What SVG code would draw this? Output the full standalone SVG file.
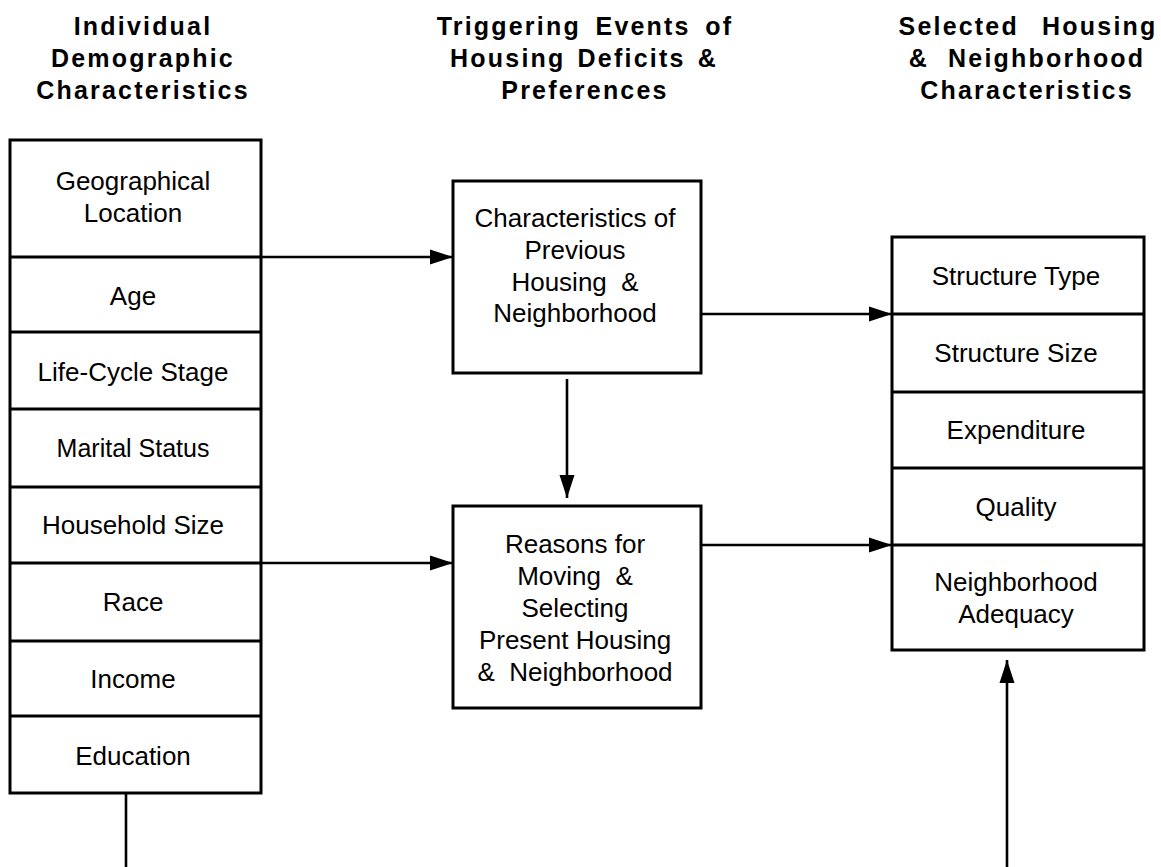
<svg xmlns="http://www.w3.org/2000/svg" width="1161" height="867" viewBox="0 0 1161 867">
<style>
  .hdr { font-family: "Liberation Sans", Arial, sans-serif; font-weight: bold; font-size: 25px; letter-spacing: 2.2px; text-anchor: middle; fill: #000; white-space: pre; }
  .lbl { font-family: "Liberation Sans", Arial, sans-serif; font-size: 26px; text-anchor: middle; fill: #000; white-space: pre; }
  .box { fill: #fff; stroke: #000; stroke-width: 3; }
  .div { stroke: #000; stroke-width: 3; }
  .con { fill: none; stroke: #000; stroke-width: 2.6; }
</style>
<defs>
  <marker id="arr" markerUnits="userSpaceOnUse" markerWidth="24" markerHeight="16" refX="23" refY="8" orient="auto" viewBox="0 0 24 16">
    <path d="M0,0.5 L23,8 L0,15.5 z" fill="#000"/>
  </marker>
</defs>
<rect width="1161" height="867" fill="#fff"/>

<g id="headers">
  <text class="hdr" x="143" y="35">Individual</text>
  <text class="hdr" x="143" y="67">Demographic</text>
  <text class="hdr" x="143" y="99">Characteristics</text>
  <text class="hdr" x="585" y="35" style="word-spacing:5.5px">Triggering Events of</text>
  <text class="hdr" x="584" y="67" style="word-spacing:3px">Housing Deficits &amp;</text>
  <text class="hdr" x="585" y="99">Preferences</text>
  <text class="hdr" x="1028" y="35" style="word-spacing:14px">Selected Housing</text>
  <text class="hdr" x="1027" y="67" style="word-spacing:10px">&amp; Neighborhood</text>
  <text class="hdr" x="1027" y="99">Characteristics</text>
</g>

<g id="connectors">
  <path class="con" d="M261,257 L453,257" marker-end="url(#arr)"/>
  <path class="con" d="M261,563 L453,563" marker-end="url(#arr)"/>
  <path class="con" d="M567,379 L567,498" marker-end="url(#arr)"/>
  <path class="con" d="M701,314 L892,314" marker-end="url(#arr)"/>
  <path class="con" d="M701,545 L892,545" marker-end="url(#arr)"/>
  <path class="con" d="M1007,867 L1007,660" marker-end="url(#arr)"/>
  <path class="con" d="M126,793 L126,867"/>
</g>

<g id="demographics">
  <rect class="box" x="10" y="140" width="251" height="653"/>
  <line class="div" x1="10" y1="257" x2="261" y2="257"/>
  <line class="div" x1="10" y1="332" x2="261" y2="332"/>
  <line class="div" x1="10" y1="409" x2="261" y2="409"/>
  <line class="div" x1="10" y1="487" x2="261" y2="487"/>
  <line class="div" x1="10" y1="563" x2="261" y2="563"/>
  <line class="div" x1="10" y1="641" x2="261" y2="641"/>
  <line class="div" x1="10" y1="716" x2="261" y2="716"/>
  <text class="lbl" x="133" y="190">Geographical</text>
  <text class="lbl" x="133" y="222">Location</text>
  <text class="lbl" x="133" y="305">Age</text>
  <text class="lbl" x="133" y="381">Life-Cycle Stage</text>
  <text class="lbl" x="133" y="457" style="font-size:25px">Marital Status</text>
  <text class="lbl" x="133" y="534">Household Size</text>
  <text class="lbl" x="133" y="611">Race</text>
  <text class="lbl" x="133" y="688">Income</text>
  <text class="lbl" x="133" y="765">Education</text>
</g>

<g id="previous-housing">
  <rect class="box" x="453" y="181" width="248" height="192"/>
  <text class="lbl" x="575" y="227">Characteristics of</text>
  <text class="lbl" x="575" y="259">Previous</text>
  <text class="lbl" x="575" y="291">Housing  &amp;</text>
  <text class="lbl" x="575" y="322">Neighborhood</text>
</g>

<g id="reasons">
  <rect class="box" x="453" y="506" width="248" height="202"/>
  <text class="lbl" x="575" y="553">Reasons for</text>
  <text class="lbl" x="575" y="585">Moving  &amp;</text>
  <text class="lbl" x="575" y="617">Selecting</text>
  <text class="lbl" x="575" y="649">Present Housing</text>
  <text class="lbl" x="575" y="681">&amp;  Neighborhood</text>
</g>

<g id="selected-housing">
  <rect class="box" x="892" y="237" width="252" height="413"/>
  <line class="div" x1="892" y1="314" x2="1144" y2="314"/>
  <line class="div" x1="892" y1="392" x2="1144" y2="392"/>
  <line class="div" x1="892" y1="468" x2="1144" y2="468"/>
  <line class="div" x1="892" y1="545" x2="1144" y2="545"/>
  <text class="lbl" x="1016" y="285">Structure Type</text>
  <text class="lbl" x="1016" y="362">Structure Size</text>
  <text class="lbl" x="1016" y="439">Expenditure</text>
  <text class="lbl" x="1016" y="516">Quality</text>
  <text class="lbl" x="1016" y="591">Neighborhood</text>
  <text class="lbl" x="1016" y="623">Adequacy</text>
</g>
</svg>
